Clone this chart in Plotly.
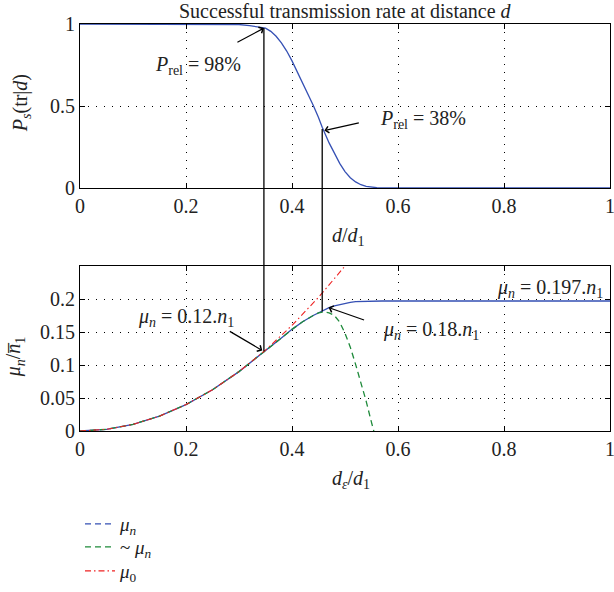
import plotly.graph_objects as go

# ---------------- data ----------------
# top panel: successful transmission rate P_s(tr|d)
d_top = [0, 0.1, 0.2, 0.25, 0.28, 0.30, 0.32, 0.34, 0.35, 0.36, 0.37, 0.38, 0.39, 0.40,
         0.41, 0.42, 0.43, 0.44, 0.45, 0.457, 0.47, 0.48, 0.49, 0.50, 0.51, 0.52,
         0.53, 0.54, 0.55, 0.56, 0.57, 0.6, 0.7, 0.8, 0.9, 1.0]
p_top = [1, 1, 1, 1, 0.999, 0.997, 0.99, 0.98, 0.975, 0.955, 0.925, 0.885, 0.835, 0.775,
         0.71, 0.645, 0.575, 0.505, 0.43, 0.37, 0.275, 0.21, 0.15, 0.1, 0.063, 0.037,
         0.02, 0.01, 0.005, 0.002, 0.001, 0, 0, 0, 0, 0]

# bottom panel: mu_n (blue), ~mu_n (green), mu_0 (red)
d_mu = [0, 0.05, 0.1, 0.15, 0.2, 0.25, 0.3, 0.35, 0.38, 0.40, 0.42, 0.44, 0.457, 0.47,
        0.48, 0.49, 0.50, 0.51, 0.52, 0.54, 0.57, 0.6, 0.8, 1.0]
mu_n = [0, 0.0025, 0.01, 0.0225, 0.04, 0.0625, 0.09, 0.121, 0.141, 0.154, 0.1655, 0.175,
        0.182, 0.187, 0.1895, 0.1915, 0.1935, 0.195, 0.196, 0.1968, 0.197, 0.197, 0.197, 0.197]

d_approx = [0, 0.05, 0.1, 0.15, 0.2, 0.25, 0.3, 0.35, 0.38, 0.40, 0.42, 0.44, 0.45, 0.46,
            0.47, 0.48, 0.49, 0.50, 0.51, 0.52, 0.53, 0.54, 0.55, 0.556]
mu_approx = [0, 0.0025, 0.01, 0.0225, 0.04, 0.0625, 0.09, 0.121, 0.141, 0.154, 0.1655,
             0.175, 0.179, 0.1805, 0.179, 0.175, 0.165, 0.148, 0.127, 0.101, 0.074,
             0.045, 0.013, -0.005]

d_mu0 = [0, 0.05, 0.1, 0.15, 0.2, 0.25, 0.3, 0.35, 0.4, 0.45, 0.5, 0.52]
mu_0 = [0, 0.0025, 0.01, 0.0225, 0.04, 0.0625, 0.09, 0.1225, 0.16, 0.2025, 0.25, 0.27]

# marked operating points (vertical connectors)
mark_d = [0.347, 0.457]
mark_p = [0.975, 0.36]
mark_mu = [0.121, 0.181]

x_ticks = [0, 0.2, 0.4, 0.6, 0.8, 1]
x_ticktext = ["0", "0.2", "0.4", "0.6", "0.8", "1"]
top_yticks = [0, 0.5, 1]
top_yticktext = ["0", "0.5", "1"]
bot_yticks = [0, 0.05, 0.1, 0.15, 0.2]
bot_yticktext = ["0", "0.05", "0.1", "0.15", "0.2"]

# ---------------- style ----------------
FONT = "Liberation Serif"
TXT = "#222222"
BLUE = "#3550b4"
GREEN = "#1e8a3a"
RED = "#ee2222"
top_dom = [0.597, 1.0]
bot_dom = [0.0, 0.4054]
top_rng = [0, 1]
bot_rng = [0, 0.25]


def to_paper(v, rng, dom):
    return dom[0] + (v - rng[0]) / (rng[1] - rng[0]) * (dom[1] - dom[0])


MU_N = "<i>μ</i><sub><i>n</i></sub>"

fig = go.Figure()

fig.add_trace(go.Scatter(x=d_top, y=p_top, mode="lines", xaxis="x", yaxis="y",
                         line=dict(color=BLUE, width=1.3), showlegend=False))
fig.add_trace(go.Scatter(x=d_mu, y=mu_n, mode="lines", xaxis="x2", yaxis="y2",
                         line=dict(color=BLUE, width=1.3), showlegend=False))
fig.add_trace(go.Scatter(x=d_approx, y=mu_approx, mode="lines", xaxis="x2", yaxis="y2",
                         line=dict(color=GREEN, width=1.3, dash="6px,4px"),
                         name="~ " + MU_N, legend="legend2"))
fig.add_trace(go.Scatter(x=d_mu0, y=mu_0, mode="lines", xaxis="x2", yaxis="y2",
                         line=dict(color=RED, width=1.1, dash="6px,3px,1.5px,3px"),
                         name="<i>μ</i><sub>0</sub>", legend="legend3"))
# legend-only entry for mu_n (dashed in the reference legend)
fig.add_trace(go.Scatter(x=[None], y=[None], mode="lines", xaxis="x2", yaxis="y2",
                         line=dict(color=BLUE, width=1.3, dash="6px,4px"),
                         name=MU_N, legend="legend"))

# vertical connectors between the two panels
shapes = []
for dv, pv, mv in zip(mark_d, mark_p, mark_mu):
    shapes.append(dict(type="line", xref="x", yref="paper", x0=dv, x1=dv,
                       y0=to_paper(pv, top_rng, top_dom),
                       y1=to_paper(mv, bot_rng, bot_dom),
                       line=dict(color="black", width=1.3)))

tf = dict(family=FONT, size=20, color=TXT)
C = dict(xanchor="center", yanchor="middle", showarrow=False, font=tf)
annotations = [
    # title
    dict(text="Successful transmission rate at distance <i>d</i>", xref="paper", yref="paper",
         x=0.5, y=(431 - 11) / 407, xanchor="center", yanchor="middle", showarrow=False,
         font=dict(family=FONT, size=20, color=TXT)),
    # axis titles
    dict(text="<i>d</i>/<i>d</i><sub>1</sub>", xref="paper", yref="paper", x=0.506, y=0.477, **C),
    dict(text="<i>d</i><sub><i>ε</i></sub>/<i>d</i><sub>1</sub>", xref="paper", yref="paper",
         x=0.511, y=-0.12, **C),
    dict(text="<i>P</i><sub><i>s</i></sub>(tr|<i>d</i>)", xref="paper", yref="paper", x=-0.109,
         y=0.806, textangle=-90, **C),
    dict(text=MU_N + "/<i>n̅</i><sub>1</sub>", xref="paper", yref="paper",
         x=-0.122, y=0.182, textangle=-90, **C),
    # labels
    dict(text="<i>P</i><sub>rel</sub> = 98%", xref="x", yref="y", x=0.223, y=0.75, **C),
    dict(text="<i>P</i><sub>rel</sub> = 38%", xref="x", yref="y", x=0.647, y=0.416, **C),
    dict(text=MU_N + " = 0.12.<i>n</i><sub>1</sub>", xref="x2", yref="y2", x=0.2, y=0.172, **C),
    dict(text=MU_N + " = 0.18.<i>n</i><sub>1</sub>", xref="x2", yref="y2", x=0.662, y=0.153, **C),
    dict(text=MU_N + " = 0.197.<i>n</i><sub>1</sub>", xref="x2", yref="y2",
         x=0.99, y=0.216, xanchor="right", yanchor="middle", showarrow=False, font=tf),
]
# arrows (tip on the curves)
arrow_style = dict(showarrow=True, arrowhead=4, arrowsize=1.1, arrowwidth=1.2,
                   arrowcolor="black", text="")
annotations += [
    dict(x=mark_d[0], y=mark_p[0], xref="x", yref="y", ax=-28, ay=15, **arrow_style),
    dict(x=mark_d[1] + 0.004, y=mark_p[1] - 0.01, xref="x", yref="y", ax=36, ay=-8, **arrow_style),
    dict(x=mark_d[0] - 0.003, y=mark_mu[0] + 0.001, xref="x2", yref="y2", ax=-34, ay=-20, **arrow_style),
    dict(x=mark_d[1] + 0.012, y=0.187, xref="x2", yref="y2", ax=37, ay=13, **arrow_style),
]

tickfont = dict(family=FONT, size=20, color=TXT)
axis_common = dict(range=[0, 1], tickvals=x_ticks, ticktext=x_ticktext, ticks="inside",
                   ticklen=5, tickcolor="black", showline=True, linecolor="black",
                   linewidth=1.2, mirror="ticks", showgrid=True, gridcolor="black",
                   gridwidth=1, griddash="1px,7px", zeroline=False, automargin=False,
                   ticklabeloverflow="allow", tickfont=tickfont)
yaxis_common = dict(ticks="inside", ticklen=5, tickcolor="black", showline=True,
                    linecolor="black", linewidth=1.2, mirror="ticks", showgrid=True,
                    gridcolor="black", gridwidth=1, griddash="1px,7px", zeroline=False,
                    automargin=False, ticklabeloverflow="allow", tickfont=tickfont)

legend_common = dict(xref="paper", yref="container", x=0.0, xanchor="left",
                     yanchor="middle", bgcolor="rgba(0,0,0,0)", borderwidth=0,
                     font=dict(family=FONT, size=19, color=TXT))

fig.update_layout(
    width=614, height=592,
    margin=dict(l=80, r=4, t=24, b=161, autoexpand=False),
    paper_bgcolor="white", plot_bgcolor="white",
    font=dict(family=FONT, color=TXT),
    xaxis=dict(domain=[0, 1], anchor="y", **axis_common),
    yaxis=dict(domain=top_dom, anchor="x", range=top_rng, tickvals=top_yticks,
               ticktext=top_yticktext, **yaxis_common),
    xaxis2=dict(domain=[0, 1], anchor="y2", **axis_common),
    yaxis2=dict(domain=bot_dom, anchor="x2", range=bot_rng, tickvals=bot_yticks,
                ticktext=bot_yticktext, **yaxis_common),
    shapes=shapes,
    annotations=annotations,
    showlegend=True,
    legend=dict(y=1 - 524 / 592, **legend_common),
    legend2=dict(y=1 - 547 / 592, **legend_common),
    legend3=dict(y=1 - 571 / 592, **legend_common),
)

fig.write_html("out.html", config={"displayModeBar": False},
               post_script="document.body.style.margin='0';document.body.style.overflow='hidden';")
